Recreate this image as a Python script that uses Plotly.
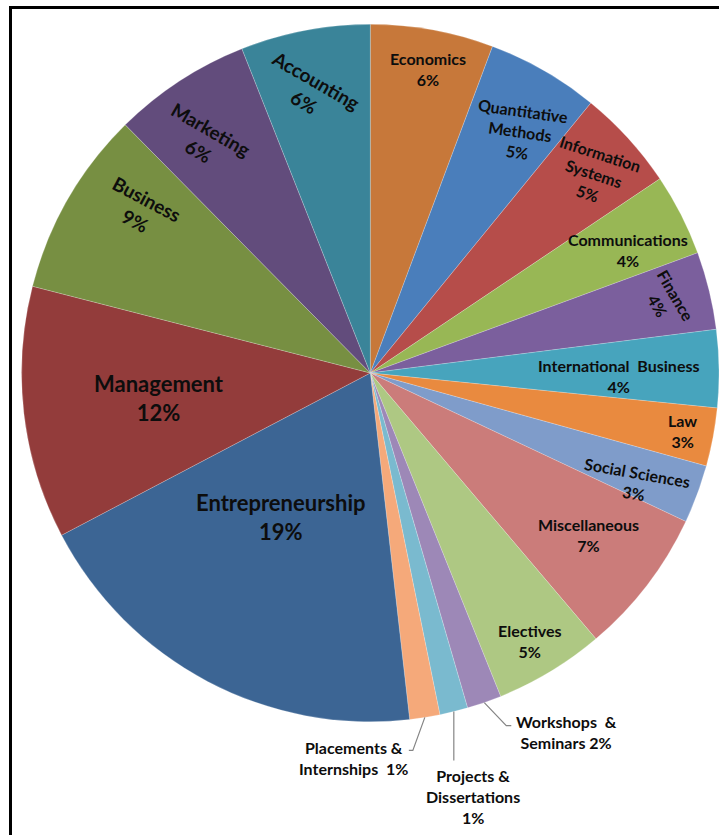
import math
import plotly.graph_objects as go

W, H = 719, 835

# Course-area share of the curriculum (percent of modules), clockwise from 12 o'clock
categories = [
    "Economics", "Quantitative Methods", "Information Systems", "Communications",
    "Finance", "International Business", "Law", "Social Sciences", "Miscellaneous",
    "Electives", "Workshops & Seminars", "Projects & Dissertations",
    "Placements & Internships", "Entrepreneurship", "Management", "Business",
    "Marketing", "Accounting",
]
values = [5.7, 5.2, 4.7, 3.8, 3.6, 3.6, 2.7, 2.7, 6.8, 5.1, 1.6, 1.3, 1.4,
          19.1, 11.7, 8.6, 6.4, 6.0]

# Text shown for each slice (name part; the rounded percentage is appended)
display_names = [
    "Economics", "Quantitative<br>Methods", "Information<br>Systems", "Communications",
    "Finance", "International  Business", "Law", "Social Sciences", "Miscellaneous",
    "Electives", "Workshops  &<br>Seminars", "Projects &<br>Dissertations",
    "Placements &<br>Internships ", "Entrepreneurship", "Management", "Business",
    "Marketing", "Accounting",
]
pct_joiner = ["<br>"] * 10 + [" ", "<br>", " "] + ["<br>"] * 5

colors = [
    "#C7783A", "#4A7EBB", "#B64D4A", "#98B755", "#7B5F9D", "#47A4BD",
    "#E98A3F", "#7F9CCA", "#CB7C7A", "#AEC883", "#9D88B7", "#7ABACF",
    "#F5A97A", "#3C6594", "#933C3B", "#778F42", "#624C7C", "#3A8499",
]

# Label styling: angular nudge (deg), radius fraction, rotation (deg), font size
label_dang = [0.5, 1.9, 0.5, 1.5, 0.0, 1.4, 0.0, 2.2, -0.9, 0.4, 0, 0, 0,
              3.8, 0.0, 5.5, -2.4, -1.4]
label_rfrac = [0.887, 0.816, 0.86, 0.82, 0.876, 0.714, 0.91, 0.825, 0.78, 0.893,
               0, 0, 0, 0.486, 0.61, 0.806, 0.82, 0.827]
label_rot = [0, 8, 18, 0, 60, 0, 0, 10, 0, 0, 0, 0, 0, 0, 0, 28, 30, 30]
label_size = [16] * 13 + [22, 22, 19, 19, 19]

# Leader lines for the thin bottom slices: elbow offset, horizontal tick,
# and where the text block sits relative to the end of the line
leaders = {
    "Workshops & Seminars": dict(elbow=(22, 23), tick=5, text=(3, 6), anchor="left"),
    "Projects & Dissertations": dict(elbow=(0, 49), tick=0, text=(19, 36), anchor="center"),
    "Placements & Internships": dict(elbow=(-12, 33), tick=-4, text=(1, 8), anchor="right"),
}

dom_x = [0.03, 1.0]
dom_y = [0.1353, 0.9713]


def px(x):
    return x / W


def py(y):
    return 1 - y / H


fig = go.Figure(go.Pie(
    labels=categories,
    values=values,
    sort=False,
    direction="clockwise",
    rotation=0,
    marker=dict(colors=colors, line=dict(color="rgba(255,255,255,0.35)", width=0.6)),
    textinfo="none",
    hoverinfo="label+percent",
    domain=dict(x=dom_x, y=dom_y),
    showlegend=False,
))

# Pie geometry in pixels (margins are zero)
cx = (dom_x[0] + dom_x[1]) / 2 * W
cy = (1 - (dom_y[0] + dom_y[1]) / 2) * H
R = min((dom_x[1] - dom_x[0]) * W, (dom_y[1] - dom_y[0]) * H) / 2

total = sum(values)
annotations = []
shapes = []
cum = 0.0
for i, name in enumerate(categories):
    v = values[i]
    mid = (cum + v / 2) / total * 360.0
    cum += v
    pct = int(v / total * 100 + 0.5)
    text = f"{display_names[i]}{pct_joiner[i]}{pct}%"
    font = dict(family="Lato", size=label_size[i], color="#0d0d0d", weight="bold")

    if name in leaders:
        ld = leaders[name]
        a = math.radians(mid)
        x0, y0 = cx + R * math.sin(a), cy - R * math.cos(a)
        x1, y1 = x0 + ld["elbow"][0], y0 + ld["elbow"][1]
        x2, y2 = x1 + ld["tick"], y1
        shapes.append(dict(
            type="path", xref="paper", yref="paper",
            path=f"M {px(x0)},{py(y0)} L {px(x1)},{py(y1)} L {px(x2)},{py(y2)}",
            line=dict(color="#858585", width=1.2),
        ))
        annotations.append(dict(
            x=px(x2 + ld["text"][0]), y=py(y2 + ld["text"][1]),
            xref="paper", yref="paper", text=text, showarrow=False,
            xanchor=ld["anchor"], yanchor="middle", align="center", font=font,
        ))
    else:
        a = math.radians(mid + label_dang[i])
        r = R * label_rfrac[i]
        lx, ly = cx + r * math.sin(a), cy - r * math.cos(a)
        annotations.append(dict(
            x=px(lx), y=py(ly), xref="paper", yref="paper", text=text,
            showarrow=False, xanchor="center", yanchor="middle", align="center",
            textangle=label_rot[i], font=font,
        ))

# Black frame around the chart area
shapes.append(dict(
    type="rect", xref="paper", yref="paper",
    x0=px(10.5), x1=1.05, y0=-0.05, y1=py(7.5),
    line=dict(color="black", width=3), fillcolor="rgba(0,0,0,0)",
))

fig.update_layout(
    width=W, height=H,
    margin=dict(l=0, r=0, t=0, b=0),
    paper_bgcolor="white",
    plot_bgcolor="white",
    showlegend=False,
    annotations=annotations,
    shapes=shapes,
)

fig.write_html("out.html")
